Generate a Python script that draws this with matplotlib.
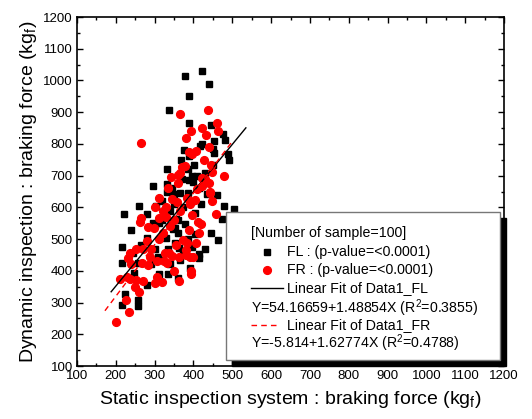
import matplotlib
matplotlib.use("Agg")
import matplotlib.pyplot as plt
import numpy as np
from matplotlib.patches import Rectangle
from matplotlib.lines import Line2D

plt.rcParams['font.family'] = ['Liberation Sans', 'DejaVu Sans']
plt.rcParams['mathtext.fontset'] = 'custom'
plt.rcParams['mathtext.rm'] = 'Liberation Sans'
plt.rcParams['mathtext.it'] = 'Liberation Sans:italic'
plt.rcParams['mathtext.bf'] = 'Liberation Sans:bold'

# ---------------- data ----------------
fl_x = [421, 379, 440, 388, 337, 389, 444, 477, 481, 452, 422, 417, 452, 488, 492, 369, 389, 331, 386, 431,
        297, 331, 389, 398, 331, 350, 365, 414, 434, 260, 304, 349, 385, 479, 505, 220, 404, 473, 297, 312,
        378, 347, 464, 328, 353, 404, 363, 374, 396, 216, 245, 308, 415, 414, 216, 316, 256, 365, 248, 311,
        335, 280, 361, 224, 217, 256, 256, 301, 352, 355,
        451, 402, 451, 426, 395, 370, 345, 320, 340, 372, 395, 420, 360, 385, 335, 300, 280, 265, 290, 340,
        390, 430, 445, 460, 320, 280, 240, 360, 410, 375]
fl_y = [1031, 1014, 990, 952, 907, 865, 860, 830, 812, 810, 800, 794, 771, 768, 748, 750, 762, 721, 720, 707,
        668, 674, 686, 681, 647, 642, 644, 660, 641, 604, 605, 611, 644, 605, 594, 579, 583, 564, 552, 550,
        547, 531, 497, 502, 487, 515, 471, 463, 476, 475, 455, 445, 452, 441, 426, 434, 426, 434, 392, 390,
        390, 354, 376, 327, 291, 308, 290, 544, 534, 563,
        783, 734, 734, 681, 700, 690, 660, 620, 590, 600, 620, 610, 520, 500, 470, 470, 505, 480, 420, 420,
        410, 470, 520, 640, 560, 580, 530, 560, 700, 780]

fr_x = [438, 366, 460, 423, 393, 463, 432, 381, 266, 441, 389, 406, 397, 427, 378, 447, 478, 365, 341, 361,
        422, 439, 410, 442, 346, 357, 311, 384, 405, 448, 458, 321, 328, 264, 262, 310, 350, 411, 420, 282,
        299, 389, 322, 281, 374, 383, 407, 251, 237, 231, 288, 327, 338, 344, 325, 331, 267, 282, 381, 391,
        364, 400, 381, 211, 237, 252, 271, 249, 261, 301, 318, 307, 363, 393, 394, 225, 233, 200,
        370, 445, 359, 430, 421, 443, 335, 300, 340, 365, 395, 290, 305, 350, 240, 270, 355, 415, 310, 230,
        390, 330]
fr_y = [908, 893, 865, 849, 841, 841, 828, 820, 802, 791, 775, 778, 767, 748, 729, 713, 700, 707, 697, 678,
        693, 676, 657, 648, 625, 618, 630, 630, 624, 621, 578, 587, 569, 566, 555, 566, 560, 555, 547, 539,
        534, 529, 518, 494, 497, 487, 487, 468, 455, 441, 445, 457, 455, 447, 431, 424, 424, 418, 450, 445,
        445, 445, 466, 374, 373, 371, 368, 350, 333, 362, 365, 382, 368, 390, 400, 308, 270, 240,
        726, 734, 703, 688, 666, 644, 660, 600, 540, 590, 575, 470, 430, 400, 420, 470, 480, 520, 500, 380,
        610, 600]

fit_fl = (54.16659, 1.48854, 188, 535)   # intercept, slope, x-start, x-end
fit_fr = (-5.814, 1.62774, 172, 503)

legend_lines = ["[Number of sample=100]",
                "FL : (p-value=<0.0001)",
                "FR : (p-value=<0.0001)",
                "Linear Fit of Data1_FL",
                r"Y=54.16659+1.48854X (R$^{2}$=0.3855)",
                "Linear Fit of Data1_FR",
                r"Y=-5.814+1.62774X (R$^{2}$=0.4788)"]

# ---------------- figure ----------------
fig = plt.figure(figsize=(5.32, 4.19), dpi=100)
ax = fig.add_axes([77/532, 1-366/419, 427/532, 349/419])

ax.plot(fl_x, fl_y, linestyle='none', marker='s', ms=5, color='black', mec='black')
ax.plot(fr_x, fr_y, linestyle='none', marker='o', ms=5.6, color='#ff0000', mec='#ff0000')

xs = np.linspace(fit_fl[2], fit_fl[3], 2)
ax.plot(xs, fit_fl[0] + fit_fl[1]*xs, color='black', lw=1.0)
xs = np.linspace(fit_fr[2], fit_fr[3], 2)
ax.plot(xs, fit_fr[0] + fit_fr[1]*xs, color='#ff0000', lw=1.0, dashes=(4, 3))

ax.set_xlim(100, 1200)
ax.set_ylim(100, 1200)
ax.set_xticks(np.arange(100, 1201, 100))
ax.set_yticks(np.arange(100, 1201, 100))
ax.set_xticks(np.arange(150, 1200, 100), minor=True)
ax.set_yticks(np.arange(150, 1200, 100), minor=True)
ax.tick_params(which='both', direction='in', top=True, right=True, labelsize=9.5, width=1)
ax.tick_params(which='major', length=4, pad=3)
ax.tick_params(which='minor', length=2.5)
for s in ax.spines.values():
    s.set_linewidth(1.2)

ax.set_xlabel(r"Static inspection system : braking force (kg$_{\mathrm{f}}$)", fontsize=14, labelpad=5)
ax.set_ylabel(r"Dynamic inspection : braking force (kg$_{\mathrm{f}}$)", fontsize=14, labelpad=3)

# ---------------- legend box ----------------
W, H = 427, 349
def fx(px): return (px - 77) / W
def fy(py): return (366 - py) / H

shadow = Rectangle((fx(232), fy(366)), fx(506) - fx(232), fy(218) - fy(366), transform=ax.transAxes,
                   facecolor='black', edgecolor='black', clip_on=False, zorder=5)
box = Rectangle((fx(226), fy(360)), fx(500) - fx(226), fy(212) - fy(360), transform=ax.transAxes,
                facecolor='white', edgecolor='#777777', lw=1, clip_on=False, zorder=6)
ax.add_patch(shadow)
ax.add_patch(box)

rows = [233, 252, 270, 288, 308, 325, 343]
lx = fx(250.5)
tx = fx(287)
fs = 10.2
ax.text(lx, fy(rows[0]), legend_lines[0], transform=ax.transAxes, fontsize=fs, va='center', ha='left', zorder=7)
ax.add_line(Line2D([fx(267)], [fy(rows[1])], marker='s', ms=5, color='black', transform=ax.transAxes, zorder=7))
ax.text(tx, fy(rows[1]), legend_lines[1], transform=ax.transAxes, fontsize=fs, va='center', ha='left', zorder=7)
ax.add_line(Line2D([fx(267)], [fy(rows[2])], marker='o', ms=5.6, color='#ff0000', transform=ax.transAxes, zorder=7))
ax.text(tx, fy(rows[2]), legend_lines[2], transform=ax.transAxes, fontsize=fs, va='center', ha='left', zorder=7)
ax.add_line(Line2D([fx(250.5), fx(283)], [fy(rows[3])]*2, color='black', lw=1, transform=ax.transAxes, zorder=7))
ax.text(tx, fy(rows[3]), legend_lines[3], transform=ax.transAxes, fontsize=fs, va='center', ha='left', zorder=7)
ax.text(lx, fy(rows[4]), legend_lines[4], transform=ax.transAxes, fontsize=fs, va='center', ha='left', zorder=7)
ax.add_line(Line2D([fx(250.5), fx(280)], [fy(rows[5])]*2, color='#ff0000', lw=1, dashes=(4, 3),
                   transform=ax.transAxes, zorder=7))
ax.text(tx, fy(rows[5]), legend_lines[5], transform=ax.transAxes, fontsize=fs, va='center', ha='left', zorder=7)
ax.text(lx, fy(rows[6]), legend_lines[6], transform=ax.transAxes, fontsize=fs, va='center', ha='left', zorder=7)

fig.savefig("out.png", dpi=100, facecolor='white')
